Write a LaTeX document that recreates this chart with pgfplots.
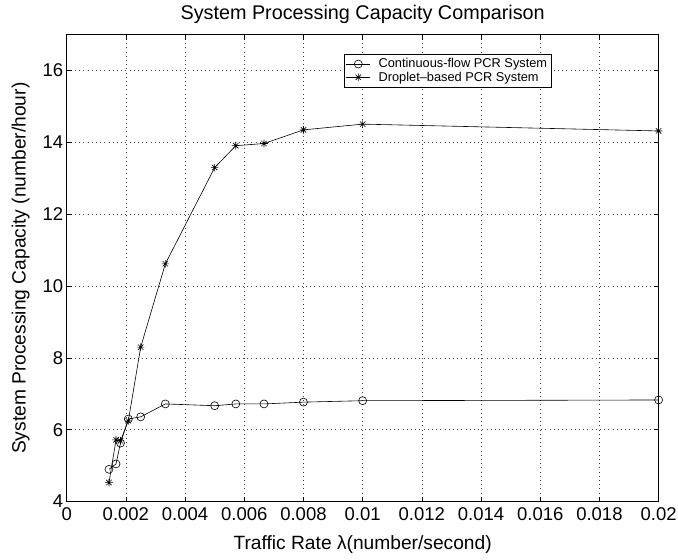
\documentclass[border=0pt]{standalone}
\usepackage{pgfplots}
\pgfplotsset{compat=1.18}
\usepackage{fontspec}
\setmainfont{Liberation Sans}

% MATLAB-style '*' marker: plus and cross together
\pgfdeclareplotmark{mstar}{%
  \pgfpathmoveto{\pgfqpoint{-\pgfplotmarksize}{0pt}}%
  \pgfpathlineto{\pgfqpoint{\pgfplotmarksize}{0pt}}%
  \pgfpathmoveto{\pgfqpoint{0pt}{-\pgfplotmarksize}}%
  \pgfpathlineto{\pgfqpoint{0pt}{\pgfplotmarksize}}%
  \pgfpathmoveto{\pgfqpoint{-0.707\pgfplotmarksize}{-0.707\pgfplotmarksize}}%
  \pgfpathlineto{\pgfqpoint{0.707\pgfplotmarksize}{0.707\pgfplotmarksize}}%
  \pgfpathmoveto{\pgfqpoint{-0.707\pgfplotmarksize}{0.707\pgfplotmarksize}}%
  \pgfpathlineto{\pgfqpoint{0.707\pgfplotmarksize}{-0.707\pgfplotmarksize}}%
  \pgfusepathqstroke}

\begin{document}
\begin{tikzpicture}
\begin{axis}[
    scale only axis, width=592pt, height=467pt,
    xmin=0, xmax=0.02, ymin=4, ymax=17,
    xtick={0,0.002,0.004,0.006,0.008,0.01,0.012,0.014,0.016,0.018,0.02},
    xticklabels={0,0.002,0.004,0.006,0.008,0.01,0.012,0.014,0.016,0.018,0.02},
    scaled x ticks=false,
    ytick={4,6,8,10,12,14,16},
    /pgf/number format/assume math mode=true,
    tick align=inside, xtick pos=both, ytick pos=both,
    major tick length=5pt,
    tick style={black, line width=0.6pt},
    axis line style={line width=0.6pt},
    grid=major,
    major grid style={black!75, line width=0.6pt, dash pattern=on 0.7pt off 3.5pt},
    ticklabel style={font=\fontsize{18.5}{21}\selectfont},
    xticklabel style={yshift=-2pt},
    label style={font=\fontsize{19.2}{22}\selectfont},
    xlabel={Traffic Rate λ(number/second)},
    xlabel style={yshift=-8pt},
    ylabel={System Processing Capacity (number/hour)},
    ylabel style={yshift=6pt},
    title={System Processing Capacity Comparison},
    title style={font=\fontsize{19.8}{23}\selectfont, at={(0.5,1)}, anchor=south, yshift=2pt},
    legend style={at={(0.468,0.959)}, anchor=north west, draw=black, line width=0.6pt,
      font=\fontsize{12.8}{14.5}\selectfont, inner xsep=2pt, inner ysep=2.5pt, row sep=-1.5pt,
      cells={anchor=west}},
    legend cell align=left,
    legend image code/.code={%
      \draw[mark repeat=2, mark phase=2, #1] plot coordinates {(0pt,0pt) (12pt,0pt) (24pt,0pt)};},
]
\addplot[black, line width=0.6pt, mark=o, mark size=4pt, mark options={line width=0.6pt}] coordinates {
  (0.001429,4.90) (0.001667,5.05) (0.001818,5.63) (0.002083,6.30) (0.0025,6.36)
  (0.003333,6.72) (0.005,6.67) (0.005714,6.72) (0.006667,6.72) (0.008,6.77)
  (0.01,6.81) (0.02,6.83)};
\addlegendentry{\hspace{6pt}Continuous-flow PCR System}
\addplot[black, line width=0.6pt, mark=mstar, mark size=3.8pt, mark options={line width=0.6pt}] coordinates {
  (0.001429,4.53) (0.001667,5.72) (0.001818,5.69) (0.002083,6.25) (0.0025,8.30)
  (0.003333,10.62) (0.005,13.30) (0.005714,13.91) (0.006667,13.97) (0.008,14.35)
  (0.01,14.51) (0.02,14.32)};
\addlegendentry{\hspace{6pt}Droplet--based PCR System}
\end{axis}
\pgfresetboundingbox
\path[use as bounding box] (-66.7pt,-58.3pt) rectangle (611.4pt,501.7pt);
\end{tikzpicture}
\end{document}
